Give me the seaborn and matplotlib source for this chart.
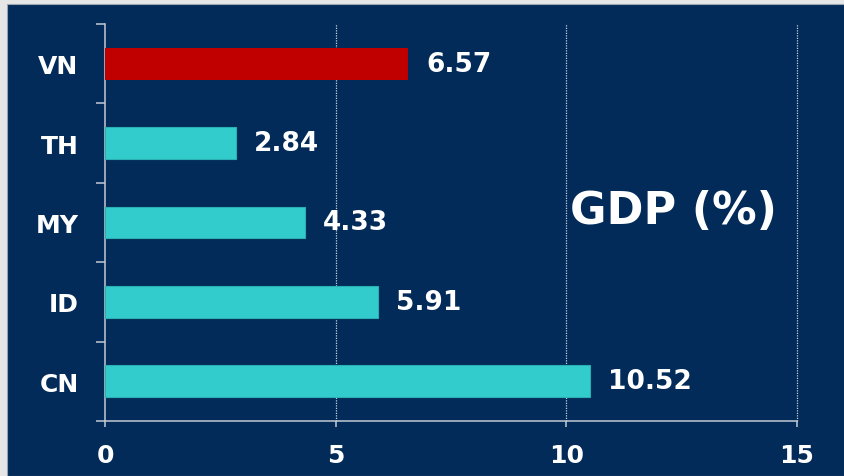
import matplotlib
matplotlib.use("Agg")
import matplotlib.pyplot as plt
from matplotlib.patches import Rectangle
import seaborn as sns
import pandas as pd

# GDP growth by country (%)
countries = ["VN", "TH", "MY", "ID", "CN"]
gdp = [6.57, 2.84, 4.33, 5.91, 10.52]
highlight = ["VN"]
x_ticks = [0, 5, 10, 15]

navy = "#022B59"
teal = "#33CCCC"
red = "#C00000"
axis_gray = "#C3CAD3"

df = pd.DataFrame({"country": countries, "gdp": gdp})
df["group"] = ["hl" if c in highlight else "base" for c in countries]

sns.set_theme(style="white")
plt.rcParams["font.family"] = ["DejaVu Sans"]

fig = plt.figure(figsize=(8.44, 4.77), dpi=100)
fig.patch.set_facecolor("#E6E6E6")
# dark panel behind the chart
fig.patches.append(Rectangle((7 / 844, 0), 1, 1 - 5 / 477, transform=fig.transFigure,
                             facecolor=navy, edgecolor="#9AA5B1", linewidth=0.8, zorder=-10))

ax = fig.add_axes([105 / 844, 1 - 422 / 477, 692 / 844, 397 / 477])
ax.set_facecolor(navy)
ax.set_zorder(5)

sns.barplot(data=df, x="gdp", y="country", hue="group", orient="h",
            palette={"hl": red, "base": teal}, width=0.4, dodge=False,
            legend=False, saturation=1, ax=ax, zorder=3)
for p in ax.patches:
    col = p.get_facecolor()
    if abs(col[0] - 0.2) < 0.05:
        p.set_edgecolor("#2AAFB3")
        p.set_linewidth(0.8)
    else:
        p.set_edgecolor("none")

ax.set_xlim(0, 15)
ax.set_ylim(4.5, -0.5)
ax.set_xticks(x_ticks)
ax.set_xlabel("")
ax.set_ylabel("")

# value labels at the bar ends
for i, v in enumerate(gdp):
    ax.annotate(f"{v:.2f}", xy=(v, i), xytext=(13, 0), textcoords="offset points",
                va="center", ha="left", color="white", fontsize=19, fontweight="bold")

# dotted vertical gridlines
for xv in x_ticks[1:]:
    ax.axvline(xv, color="#C8D0DC", linestyle=(0, (1, 1)), linewidth=0.9,
               zorder=1, clip_on=False)

for side in ["top", "right"]:
    ax.spines[side].set_visible(False)
for side in ["left", "bottom"]:
    ax.spines[side].set_color(axis_gray)
    ax.spines[side].set_linewidth(1.1)

ax.tick_params(axis="x", bottom=True, colors=axis_gray, length=4, width=1.1,
               direction="out", pad=12, labelsize=18, labelcolor="white")
ax.tick_params(axis="y", which="major", left=True, length=0, pad=19,
               labelsize=18, labelcolor="white")
ax.set_yticks([i - 0.5 for i in range(len(countries) + 1)], minor=True)
ax.tick_params(axis="y", which="minor", left=True, length=6.5, width=1.1,
               color=axis_gray, direction="out")
for lab in ax.get_xticklabels() + ax.get_yticklabels():
    lab.set_fontweight("bold")

ax.text(673 / 844, 1 - 212 / 477, "GDP (%)", transform=fig.transFigure,
        ha="center", va="center", color="white", fontsize=32, fontweight="bold")

fig.savefig("out.png", dpi=100, facecolor=fig.get_facecolor())
